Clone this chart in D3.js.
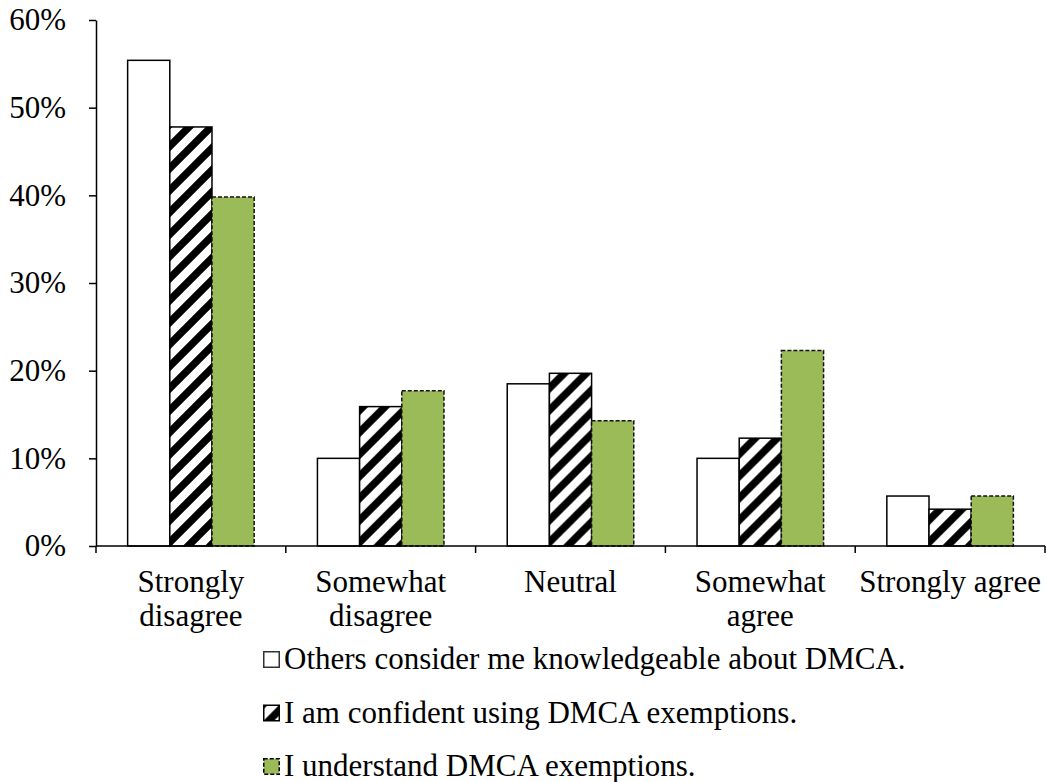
<!DOCTYPE html>
<html>
<head>
<meta charset="utf-8">
<script src="https://cdn.jsdelivr.net/npm/d3@7"></script>
<style>
  html, body { margin: 0; padding: 0; background: #fff; }
  svg { display: block; }
</style>
</head>
<body>
<svg id="chart" width="1047" height="782"></svg>
<script>
const categories = ["Strongly disagree", "Somewhat disagree", "Neutral", "Somewhat agree", "Strongly agree"];
const categoryLines = [["Strongly", "disagree"], ["Somewhat", "disagree"], ["Neutral"], ["Somewhat", "agree"], ["Strongly agree"]];
const seriesNames = [
  "Others consider me knowledgeable about DMCA.",
  "I am confident using DMCA exemptions.",
  "I understand DMCA exemptions."
];
const knowledgeable = [0.554, 0.100, 0.185, 0.100, 0.057];
const confident = [0.478, 0.159, 0.197, 0.123, 0.042];
const understand = [0.398, 0.177, 0.143, 0.223, 0.057];
const seriesValues = [knowledgeable, confident, understand];
const yTicks = [0, 0.1, 0.2, 0.3, 0.4, 0.5, 0.6];

(function () {
const FONT = "'Times New Roman', Tinos, 'Liberation Serif', 'Noto Serif', 'DejaVu Serif', serif";
const svg = d3.select("#chart");
const plotLeft = 96, plotRight = 1045, plotTop = 20, plotBottom = 546;
const fontSize = 31;

// Hatch pattern
const defs = svg.append("defs");
const p = 22;
const pat = defs.append("pattern").attr("id", "hatch")
  .attr("patternUnits", "userSpaceOnUse").attr("width", p).attr("height", p);
pat.append("rect").attr("width", p).attr("height", p).attr("fill", "#fff");
pat.append("path")
  .attr("d", `M0,${p} L${p},0 M${-p/2},${p/2} L${p/2},${-p/2} M${p/2},${p*1.5} L${p*1.5},${p/2}`)
  .attr("stroke", "#000").attr("stroke-width", 7.5);

const styles = [
  { fill: "#fff", stroke: "#000", dash: null },
  { fill: "url(#hatch)", stroke: "#000", dash: null },
  { fill: "#9BBB59", stroke: "#111", dash: "4,2" }
];

const x0 = d3.scaleBand().domain(categories).range([plotLeft, plotRight]).padding(0);
const x1 = d3.scaleBand().domain(d3.range(3)).range([0, x0.bandwidth()]).paddingInner(0).paddingOuter(0.75);
const y = d3.scaleLinear().domain([0, 0.6]).range([plotBottom, plotTop]);

// Bars
const groups = svg.append("g").selectAll("g").data(categories).join("g")
  .attr("transform", d => `translate(${x0(d)},0)`);
groups.selectAll("rect")
  .data((d, i) => seriesValues.map((vals, s) => ({ s, v: vals[i] })))
  .join("rect")
  .attr("x", d => x1(d.s))
  .attr("y", d => y(d.v))
  .attr("width", x1.bandwidth())
  .attr("height", d => y(0) - y(d.v))
  .attr("fill", d => styles[d.s].fill)
  .attr("stroke", d => styles[d.s].stroke)
  .attr("stroke-width", 1.5)
  .attr("stroke-dasharray", d => styles[d.s].dash);

// Y axis
const yAxis = svg.append("g").attr("transform", `translate(${plotLeft},0)`)
  .call(d3.axisLeft(y).tickValues(yTicks).tickFormat(d3.format(".0%")).tickSize(7).tickSizeOuter(0).tickPadding(23));
yAxis.select(".domain").attr("stroke", "#000").attr("stroke-width", 1.5);
yAxis.selectAll(".tick line").attr("stroke", "#000").attr("stroke-width", 1.5);
yAxis.selectAll(".tick text").style("font-family", FONT).style("font-size", fontSize + "px").attr("fill", "#000");

// X axis line and boundary ticks
const boundaries = categories.map(c => x0(c)).concat([plotRight]);
const xAxis = svg.append("g");
xAxis.append("line").attr("x1", plotLeft).attr("x2", plotRight).attr("y1", plotBottom).attr("y2", plotBottom)
  .attr("stroke", "#000").attr("stroke-width", 1.5);
xAxis.selectAll("line.bt").data(boundaries).join("line").attr("class", "bt")
  .attr("x1", d => d).attr("x2", d => d).attr("y1", plotBottom).attr("y2", plotBottom + 7)
  .attr("stroke", "#000").attr("stroke-width", 1.5);

// Category labels
svg.append("g").selectAll("text").data(categories).join("text")
  .attr("x", d => x0(d) + x0.bandwidth() / 2)
  .attr("y", 592)
  .attr("text-anchor", "middle")
  .style("font-family", FONT).style("font-size", fontSize + "px").attr("fill", "#000")
  .each(function(d, i) {
    d3.select(this).selectAll("tspan").data(categoryLines[i]).join("tspan")
      .attr("x", x0(d) + x0.bandwidth() / 2)
      .attr("dy", (t, j) => j === 0 ? 0 : 34)
      .text(t => t);
  });

// Legend
const legend = svg.append("g");
const rows = legend.selectAll("g").data(seriesNames).join("g")
  .attr("transform", (d, i) => `translate(263,${651 + i * 53.5})`);
rows.append("rect").attr("x", 0.75).attr("y", 0.75).attr("width", 15.5).attr("height", 15.5)
  .attr("fill", (d, i) => styles[i].fill)
  .attr("stroke", (d, i) => i === 0 ? "#333" : "#000")
  .attr("stroke-width", 1.5)
  .attr("stroke-dasharray", (d, i) => styles[i].dash);
rows.append("text").attr("x", 21).attr("y", 18)
  .style("font-family", FONT).style("font-size", fontSize + "px").attr("fill", "#000")
  .text(d => d);
})();
</script>
</body>
</html>
